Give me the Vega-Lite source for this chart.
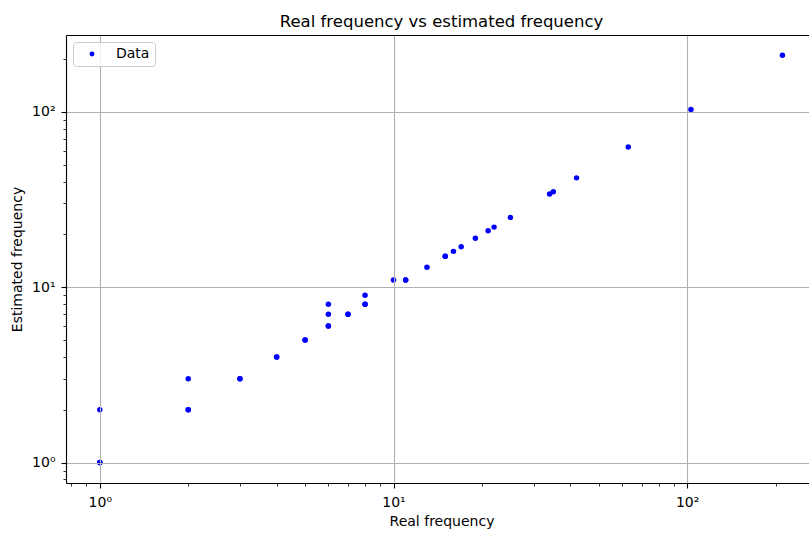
{
  "$schema": "https://vega.github.io/schema/vega-lite/v6.json",
  "width": 743,
  "height": 448,
  "autosize": {"type": "none"},
  "padding": {"left": 66, "top": 35, "right": 0, "bottom": 50},
  "background": "white",
  "title": {"text": "Real frequency vs estimated frequency", "fontSize": 16.5, "font": "DejaVu Sans", "fontWeight": "normal", "color": "black", "baseline": "bottom", "offset": -11, "dx": 4, "frame": "group", "anchor": "middle"},
  "config": {"view": {"stroke": null}, "font": "DejaVu Sans"},
  "data": {"values": [
    {"real": 1, "estimated": 1, "series": "Data"},
    {"real": 1, "estimated": 1, "series": "Data"},
    {"real": 1, "estimated": 2, "series": "Data"},
    {"real": 2, "estimated": 2, "series": "Data"},
    {"real": 2, "estimated": 2, "series": "Data"},
    {"real": 2, "estimated": 3, "series": "Data"},
    {"real": 3, "estimated": 3, "series": "Data"},
    {"real": 3, "estimated": 3, "series": "Data"},
    {"real": 4, "estimated": 4, "series": "Data"},
    {"real": 4, "estimated": 4, "series": "Data"},
    {"real": 5, "estimated": 5, "series": "Data"},
    {"real": 5, "estimated": 5, "series": "Data"},
    {"real": 6, "estimated": 6, "series": "Data"},
    {"real": 6, "estimated": 6, "series": "Data"},
    {"real": 6, "estimated": 7, "series": "Data"},
    {"real": 6, "estimated": 8, "series": "Data"},
    {"real": 7, "estimated": 7, "series": "Data"},
    {"real": 7, "estimated": 7, "series": "Data"},
    {"real": 8, "estimated": 8, "series": "Data"},
    {"real": 8, "estimated": 8, "series": "Data"},
    {"real": 8, "estimated": 9, "series": "Data"},
    {"real": 10, "estimated": 11, "series": "Data"},
    {"real": 11, "estimated": 11, "series": "Data"},
    {"real": 11, "estimated": 11, "series": "Data"},
    {"real": 13, "estimated": 13, "series": "Data"},
    {"real": 15, "estimated": 15, "series": "Data"},
    {"real": 15, "estimated": 15, "series": "Data"},
    {"real": 16, "estimated": 16, "series": "Data"},
    {"real": 17, "estimated": 17, "series": "Data"},
    {"real": 19, "estimated": 19, "series": "Data"},
    {"real": 21, "estimated": 21, "series": "Data"},
    {"real": 22, "estimated": 22, "series": "Data"},
    {"real": 25, "estimated": 25, "series": "Data"},
    {"real": 34, "estimated": 34, "series": "Data"},
    {"real": 35, "estimated": 35, "series": "Data"},
    {"real": 42, "estimated": 42, "series": "Data"},
    {"real": 63, "estimated": 63, "series": "Data"},
    {"real": 103, "estimated": 103, "series": "Data"},
    {"real": 211, "estimated": 210, "series": "Data"}
  ]},
  "layer": [
    {
      "mark": {"type": "circle", "size": 30, "opacity": 1},
      "encoding": {
        "x": {
          "field": "real", "type": "quantitative",
          "scale": {"type": "log", "domain": [0.767, 259.9], "nice": false, "zero": false},
          "axis": {
            "values": [0.8, 0.9, 1, 2, 3, 4, 5, 6, 7, 8, 9, 10, 20, 30, 40, 50, 60, 70, 80, 90, 100, 200],
            "labelExpr": "datum.value == 1 ? '10⁰' : datum.value == 10 ? '10¹' : datum.value == 100 ? '10²' : ''",
            "labelOverlap": false, "labelFlush": false,
            "labelFont": "DejaVu Sans", "labelFontSize": 14, "labelColor": "black", "labelPadding": 7,
            "tickColor": "black",
            "tickSize": {"condition": {"test": "datum.value == 1 || datum.value == 10 || datum.value == 100", "value": 5}, "value": 3},
            "tickWidth": {"condition": {"test": "datum.value == 1 || datum.value == 10 || datum.value == 100", "value": 1.1}, "value": 0.8},
            "grid": true, "gridColor": "#b0b0b0", "gridWidth": 1.1,
            "gridOpacity": {"condition": {"test": "datum.value == 1 || datum.value == 10 || datum.value == 100", "value": 1}, "value": 0},
            "domainColor": "black", "domainWidth": 1.1,
            "title": "Real frequency", "titleFont": "DejaVu Sans", "titleFontSize": 14, "titleFontWeight": "normal", "titleColor": "black", "titlePadding": 5, "titleX": 375.5,
            "zindex": 1
          }
        },
        "y": {
          "field": "estimated", "type": "quantitative",
          "scale": {"type": "log", "domain": [0.764, 274.2], "nice": false, "zero": false},
          "axis": {
            "values": [0.8, 0.9, 1, 2, 3, 4, 5, 6, 7, 8, 9, 10, 20, 30, 40, 50, 60, 70, 80, 90, 100, 200],
            "labelExpr": "datum.value == 1 ? '10⁰' : datum.value == 10 ? '10¹' : datum.value == 100 ? '10²' : ''",
            "labelOverlap": false, "labelFlush": false,
            "labelFont": "DejaVu Sans", "labelFontSize": 14, "labelColor": "black", "labelPadding": 6,
            "tickColor": "black",
            "tickSize": {"condition": {"test": "datum.value == 1 || datum.value == 10 || datum.value == 100", "value": 5}, "value": 3},
            "tickWidth": {"condition": {"test": "datum.value == 1 || datum.value == 10 || datum.value == 100", "value": 1.1}, "value": 0.8},
            "grid": true, "gridColor": "#b0b0b0", "gridWidth": 1.1,
            "gridOpacity": {"condition": {"test": "datum.value == 1 || datum.value == 10 || datum.value == 100", "value": 1}, "value": 0},
            "domainColor": "black", "domainWidth": 1.1,
            "title": "Estimated frequency", "titleFont": "DejaVu Sans", "titleFontSize": 14, "titleFontWeight": "normal", "titleColor": "black", "titlePadding": 7,
            "zindex": 1
          }
        },
        "color": {
          "field": "series", "type": "nominal",
          "scale": {"range": ["#0000ff"]},
          "legend": {
            "title": null, "orient": "top-left", "offset": 7, "padding": 5,
            "strokeColor": "#cccccc", "fillColor": "rgba(255,255,255,0.8)", "cornerRadius": 3,
            "labelFontSize": 14, "labelFont": "DejaVu Sans", "labelColor": "black",
            "symbolSize": 24, "symbolOffset": 7, "labelOffset": 17, "symbolType": "circle",
            "zindex": 2
          }
        }
      }
    },
    {
      "mark": {"type": "rule"},
      "transform": [{"filter": "false"}],
      "encoding": {
        "x": {"field": "real", "type": "quantitative",
          "axis": {"orient": "top", "labels": false, "ticks": false, "grid": false, "domain": true, "domainColor": "black", "domainWidth": 1.1, "title": null, "zindex": 1}}
      }
    }
  ],
  "resolve": {"axis": {"x": "independent"}}
}
